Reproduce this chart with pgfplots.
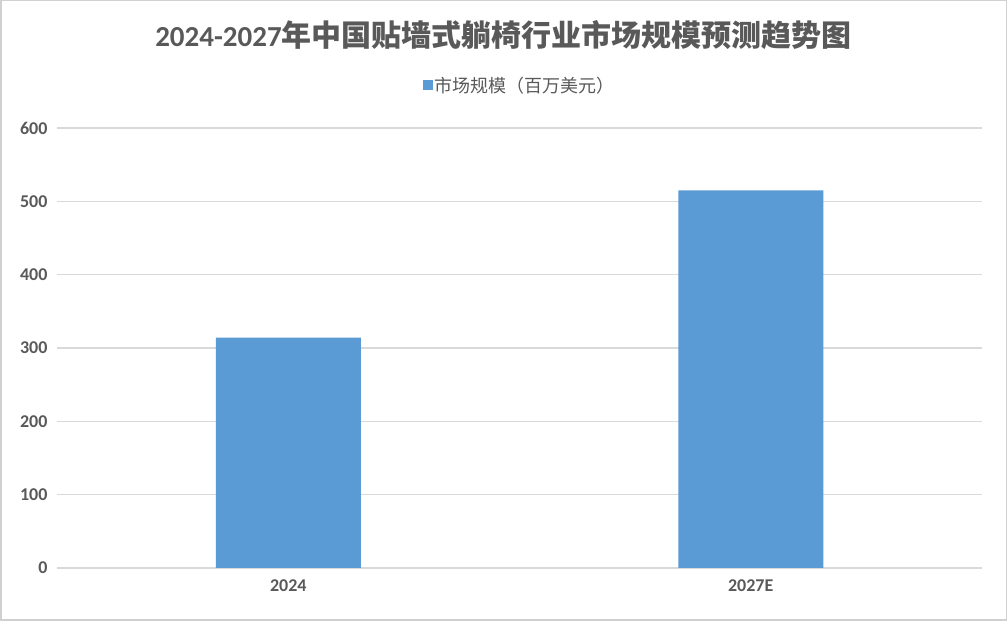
\documentclass[border=0pt]{standalone}
\usepackage{pgfplots}
\pgfplotsset{compat=1.18}
\usepackage{fontspec}
\setmainfont{Carlito}
\newfontfamily\cjk{Noto Sans CJK SC}
\definecolor{barblue}{HTML}{5B9BD5}
\definecolor{gridgray}{HTML}{D9D9D9}
\definecolor{txtgray}{HTML}{595959}
\definecolor{framegray}{HTML}{D0D0D0}
\begin{document}
\begin{tikzpicture}
\path[use as bounding box] (0pt,0pt) rectangle (1007pt,621pt);
\draw[framegray, line width=1.5pt] (0.75pt,0.75pt) rectangle (1006.25pt,620.25pt);
\node[text=txtgray, font=\fontsize{29}{32}\selectfont\bfseries] at (503.5pt,586pt)
  {2024-2027{\cjk\fontsize{30}{33}\selectfont 年中国贴墙式躺椅行业市场规模预测趋势图}};
\begin{axis}[
  at={(57pt,53pt)}, anchor=south west,
  scale only axis, width=925pt, height=440pt,
  xmin=-0.5, xmax=1.5, ymin=0, ymax=600,
  xtick={0,1}, xticklabels={2024,2027E},
  ytick={0,100,...,600},
  ymajorgrids, grid style={gridgray, line width=1.2pt},
  axis line style={draw=none},
  axis x line*=bottom,
  x axis line style={gridgray, line width=1.2pt},
  major tick length=0pt,
  tick label style={text=txtgray, font=\fontsize{18}{20}\selectfont\bfseries},
  /pgf/number format/assume math mode=true,
  yticklabel style={xshift=-6pt},
  xticklabel style={yshift=-8pt},
  clip=false,
  legend style={at={(0.5,1)}, anchor=south, yshift=30pt, draw=none,
    font=\cjk\fontsize{18}{20}\selectfont, text=txtgray,
    legend image code/.code={\fill[barblue] (0pt,-5pt) rectangle (10pt,5pt);}},
]
\addplot[ybar, bar width=145pt, fill=barblue, draw=none] coordinates {(0,314) (1,515)};
\addlegendentry{市场规模（百万美元）}
\end{axis}
\end{tikzpicture}
\end{document}
